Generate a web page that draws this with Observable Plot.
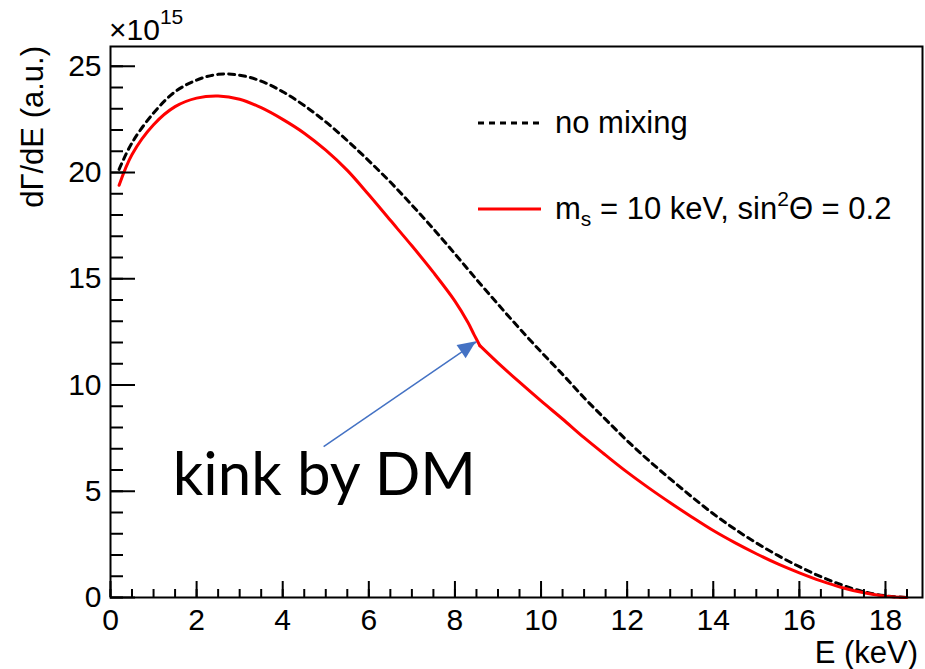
<!DOCTYPE html>
<html><head><meta charset="utf-8">
<script src="https://cdn.jsdelivr.net/npm/d3@7"></script>
<script src="https://cdn.jsdelivr.net/npm/@observablehq/plot@0.6"></script>
<style>body{margin:0;background:#fff} svg{display:block}</style>
</head><body><div id="chart"></div>
<script>
// ---- data (y in units of 1e15) ----
const energyNoMix = [0.2,0.5,1,1.5,2,2.5,3,3.5,4,4.5,5,5.5,6,6.5,7,7.5,8,8.5,9,9.5,10,10.5,11,11.5,12,12.5,13,13.5,14,14.5,15,15.5,16,16.5,17,17.5,18,18.5];
const rateNoMix   = [20.15,21.4,22.8,23.8,24.35,24.62,24.58,24.3,23.8,23.15,22.38,21.5,20.55,19.55,18.47,17.35,16.17,14.97,13.8,12.66,11.56,10.5,9.4,8.38,7.38,6.45,5.58,4.74,3.94,3.22,2.57,1.98,1.45,0.98,0.58,0.27,0.08,0];
const energyMix   = [0.2,0.5,1,1.5,2,2.5,3,3.5,4,4.5,5,5.5,6,6.5,7,7.5,8,8.3,8.45,8.58,9,9.5,10,10.5,11,11.5,12,12.5,13,13.5,14,14.5,15,15.5,16,16.5,17,17.5,18,18.5];
const rateMix     = [19.4,20.85,22.25,23.1,23.5,23.6,23.45,23.05,22.5,21.85,21.05,20.1,18.95,17.75,16.55,15.3,13.95,12.95,12.35,11.85,11.04,10.13,9.25,8.4,7.52,6.7,5.9,5.16,4.46,3.79,3.15,2.58,2.06,1.58,1.16,0.78,0.46,0.22,0.06,0];
const kinkEnergy  = 8.58;
const xMajorTicks = [0,2,4,6,8,10,12,14,16,18];
const yMajorTicks = [0,5,10,15,20,25];
const xMinorTicks = d3.range(0, 18.9, 0.5);
const yMinorTicks = d3.range(0, 26, 1);
const seriesLabels = ["no mixing", "m_s = 10 keV, sin^2Θ = 0.2"];
const annotationText = "kink by DM";
const arrowFrom = [4.95, 7.1];
const arrowTo = [8.5, 12.03];
const textAt = [1.46, 4.79];

const noMix = energyNoMix.map((E, i) => ({E, v: rateNoMix[i]}));
const mixRows = energyMix.map((E, i) => ({E, v: rateMix[i]}));
// split the mixed curve at the kink so each side is smoothed separately
const mix = [
  ...mixRows.filter(d => d.E <= kinkEnergy).map(d => ({...d, seg: "below"})),
  ...mixRows.filter(d => d.E >= kinkEnergy).map(d => ({...d, seg: "above"}))
];

const font = "Liberation Sans, Arial, Helvetica, sans-serif";
const plot = Plot.plot({
  width: 925, height: 669,
  marginLeft: 110, marginRight: 3, marginTop: 46, marginBottom: 72,
  style: {fontFamily: font, fontSize: "30px", background: "#fff", overflow: "visible"},
  x: {domain: [0, 18.86]},
  y: {domain: [0, 25.93]},
  marks: [
    Plot.line(noMix, {x: "E", y: "v", stroke: "black", strokeWidth: 3, strokeDasharray: "6,5", curve: "catmull-rom"}),
    Plot.line(mix, {x: "E", y: "v", z: "seg", stroke: "#ff0000", strokeWidth: 3, curve: "catmull-rom"}),
    Plot.axisX(xMinorTicks, {anchor: "bottom", tickSize: -8, strokeWidth: 2, tickFormat: () => "", label: null}),
    Plot.axisX(xMajorTicks, {anchor: "bottom", tickSize: -16, strokeWidth: 2, tickFormat: () => "", label: null}),
    Plot.axisX(xMajorTicks, {anchor: "bottom", tickSize: 0, tickPadding: 11, fontSize: 30, label: null}),
    Plot.axisY(yMinorTicks, {anchor: "left", tickSize: -13, strokeWidth: 2, tickFormat: () => "", label: null}),
    Plot.axisY(yMajorTicks, {anchor: "left", tickSize: 0, tickPadding: 9, fontSize: 30, label: null}),
    Plot.axisY(yMajorTicks, {anchor: "left", tickSize: -25, strokeWidth: 2, tickFormat: () => "", label: null}),
    Plot.frame({stroke: "black", strokeWidth: 2}),
    Plot.link([{x1: arrowFrom[0], y1: arrowFrom[1], x2: arrowTo[0], y2: arrowTo[1]}],
      {x1: "x1", y1: "y1", x2: "x2", y2: "y2", stroke: "#4472C4", strokeWidth: 1.5})
  ]
});

const svg = d3.select(plot);
const sx = plot.scale("x"), sy = plot.scale("y");

// arrow head (filled triangle) at the tip, and the annotation text
{
  const x1 = sx.apply(arrowFrom[0]), y1 = sy.apply(arrowFrom[1]);
  const x2 = sx.apply(arrowTo[0]), y2 = sy.apply(arrowTo[1]);
  const L = Math.hypot(x2 - x1, y2 - y1), ux = (x2 - x1) / L, uy = (y2 - y1) / L;
  const hl = 18, hw = 8;
  const bx = x2 - ux * hl, by = y2 - uy * hl;
  svg.append("path")
    .attr("d", `M${x2},${y2}L${bx - uy * hw},${by + ux * hw}L${bx + uy * hw},${by - ux * hw}Z`)
    .attr("fill", "#4472C4");
  svg.append("text")
    .attr("x", sx.apply(textAt[0])).attr("y", sy.apply(textAt[1]))
    .attr("text-anchor", "start")
    .attr("font-family", "Lato, Calibri, sans-serif").attr("font-size", 60)
    .attr("fill", "black").text(annotationText);
}

// axis titles
svg.append("text").attr("x", 918).attr("y", 663).attr("text-anchor", "end")
  .attr("font-family", font).attr("font-size", 31).text("E (keV)");
svg.append("text").attr("transform", "translate(43,46) rotate(-90)").attr("text-anchor", "end")
  .attr("font-family", font).attr("font-size", 31).text("dΓ/dE (a.u.)");

// x10^15 exponent
{
  const t = svg.append("text").attr("x", 109).attr("y", 40).attr("text-anchor", "start")
    .attr("font-family", font).attr("font-size", 30);
  t.append("tspan").text("×10");
  t.append("tspan").attr("font-size", 21).attr("dy", -16).text("15");
}

// legend
{
  const g = svg.append("g").attr("font-family", font).attr("font-size", 31).attr("text-anchor", "start");
  g.append("line").attr("x1", 478).attr("x2", 540).attr("y1", 123).attr("y2", 123)
    .attr("stroke", "black").attr("stroke-width", 3).attr("stroke-dasharray", "6,5");
  g.append("text").attr("x", 555).attr("y", 133).text(seriesLabels[0]);
  g.append("line").attr("x1", 478).attr("x2", 541).attr("y1", 209).attr("y2", 209)
    .attr("stroke", "#ff0000").attr("stroke-width", 3);
  const t = g.append("text").attr("x", 555).attr("y", 219);
  t.append("tspan").text("m");
  t.append("tspan").attr("font-size", 21).attr("dy", 7).text("s");
  t.append("tspan").attr("dy", -7).text(" = 10 keV, sin");
  t.append("tspan").attr("font-size", 21).attr("dy", -13).text("2");
  t.append("tspan").attr("dy", 13).text("Θ = 0.2");
}

document.getElementById("chart").appendChild(plot);
</script>
</body></html>
